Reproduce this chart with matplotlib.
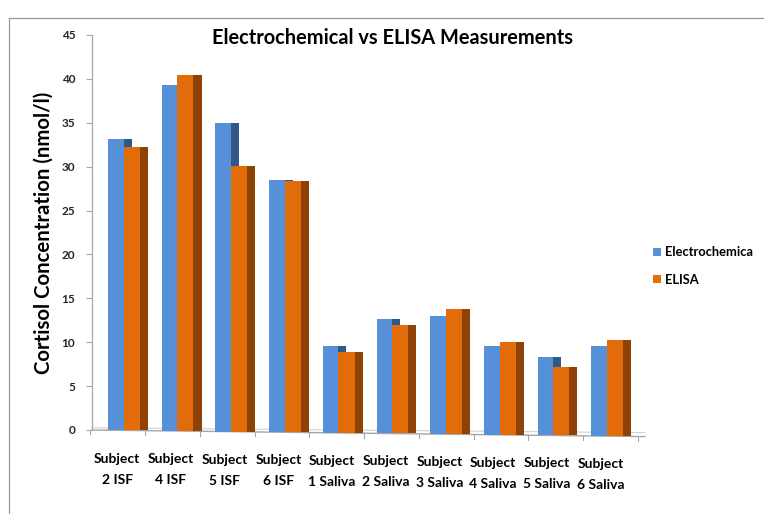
import matplotlib
matplotlib.use("Agg")
import matplotlib.pyplot as plt
from matplotlib.patches import Rectangle, Patch
from matplotlib.lines import Line2D

categories = ["Subject\n2 ISF", "Subject\n4 ISF", "Subject\n5 ISF", "Subject\n6 ISF",
              "Subject\n1 Saliva", "Subject\n2 Saliva", "Subject\n3 Saliva",
              "Subject\n4 Saliva", "Subject\n5 Saliva", "Subject\n6 Saliva"]
electrochemical = [33.2, 39.3, 35.0, 28.5, 9.6, 12.7, 13.0, 9.6, 8.3, 9.6]
elisa = [32.2, 40.5, 30.1, 28.4, 8.9, 12.0, 13.75, 10.0, 7.2, 10.3]
series_names = ["Electrochemica", "ELISA"]
yticks = list(range(0, 50, 5))

FONT = "Lato"
blue, blue_side = "#5590d9", "#30588a"
orange, orange_side = "#e36c0a", "#8f4206"

fig = plt.figure(figsize=(7.64, 5.14), dpi=100)
ax = fig.add_axes([92/764, 1-430/514, (645-92)/764, (430-35)/514])
ax.set_xlim(-0.47, 9.83)
ax.set_ylim(0, 45)

def floor(x):
    return -0.75 * (x + 0.47) / 10.3

w_blue, w_or, depth = 0.29, 0.30, 0.15
for i, (e, l) in enumerate(zip(electrochemical, elisa)):
    x0 = i - 0.17
    b = floor(i)
    ax.add_patch(Rectangle((x0 + w_blue, b), depth, e - b, facecolor=blue_side, edgecolor="none", clip_on=False, zorder=2))
    ax.add_patch(Rectangle((x0, b), w_blue, e - b, facecolor=blue, edgecolor="none", clip_on=False, zorder=3))
    ax.add_patch(Rectangle((x0 + w_blue + w_or, b), depth, l - b, facecolor=orange_side, edgecolor="none", clip_on=False, zorder=4))
    ax.add_patch(Rectangle((x0 + w_blue, b), w_or, l - b, facecolor=orange, edgecolor="none", clip_on=False, zorder=5))

# floor
ax.add_line(Line2D([-0.47, 9.83], [floor(-0.47), floor(9.83)], color="#a6a6a6", lw=1.0, clip_on=False, zorder=1))
ax.add_line(Line2D([-0.47, 9.83], [floor(-0.47) + 0.25, floor(9.83) + 0.45], color="#d0d0d0", lw=0.8, clip_on=False, zorder=1))
for k in range(11):
    xb = k - 0.5 + 0.02 * k
    ax.add_line(Line2D([xb, xb], [floor(xb), floor(xb) - 0.5], color="#a6a6a6", lw=0.8, clip_on=False, zorder=1))

for s in ["top", "right", "bottom"]:
    ax.spines[s].set_visible(False)
ax.spines["left"].set_color("#a6a6a6")
ax.spines["left"].set_linewidth(0.9)
ax.set_yticks(yticks)
ax.set_yticklabels([str(t) for t in yticks], fontfamily=FONT, fontweight="bold", fontsize=8.5, color="#262626")
ax.tick_params(axis="y", length=4, color="#a6a6a6", pad=8)
ax.set_xticks([])
for i, c in enumerate(categories):
    ax.text(i, -2.6 - 0.06 * i, c, ha="center", va="top", fontfamily=FONT, fontweight="bold",
            fontsize=10, color="#000000", linespacing=1.9)

ax.set_ylabel("Cortisol Concentration (nmol/l)", fontfamily=FONT, fontweight="bold", fontsize=14.7, labelpad=6)
fig.text(392/764, 1-38/514, "Electrochemical vs ELISA Measurements", ha="center", va="center",
         fontfamily=FONT, fontweight="bold", fontsize=14.4)

handles = [Patch(facecolor=blue, edgecolor="none"), Patch(facecolor=orange, edgecolor="none")]
fig.legend(handles, series_names, loc="center left", bbox_to_anchor=(648/764, 1-266/514), frameon=False,
           handlelength=0.6, handleheight=0.6, handletextpad=0.35, labelspacing=1.2, borderaxespad=0,
           prop={"family": FONT, "weight": "bold", "size": 9.3})

fig.add_artist(Line2D([9/764, 9/764], [0, 1-18/514], transform=fig.transFigure, color="#9a9a9a", lw=0.9))
fig.add_artist(Line2D([9/764, 1], [1-18/514, 1-18/514], transform=fig.transFigure, color="#9a9a9a", lw=0.9))

fig.savefig("out.png", dpi=100)
